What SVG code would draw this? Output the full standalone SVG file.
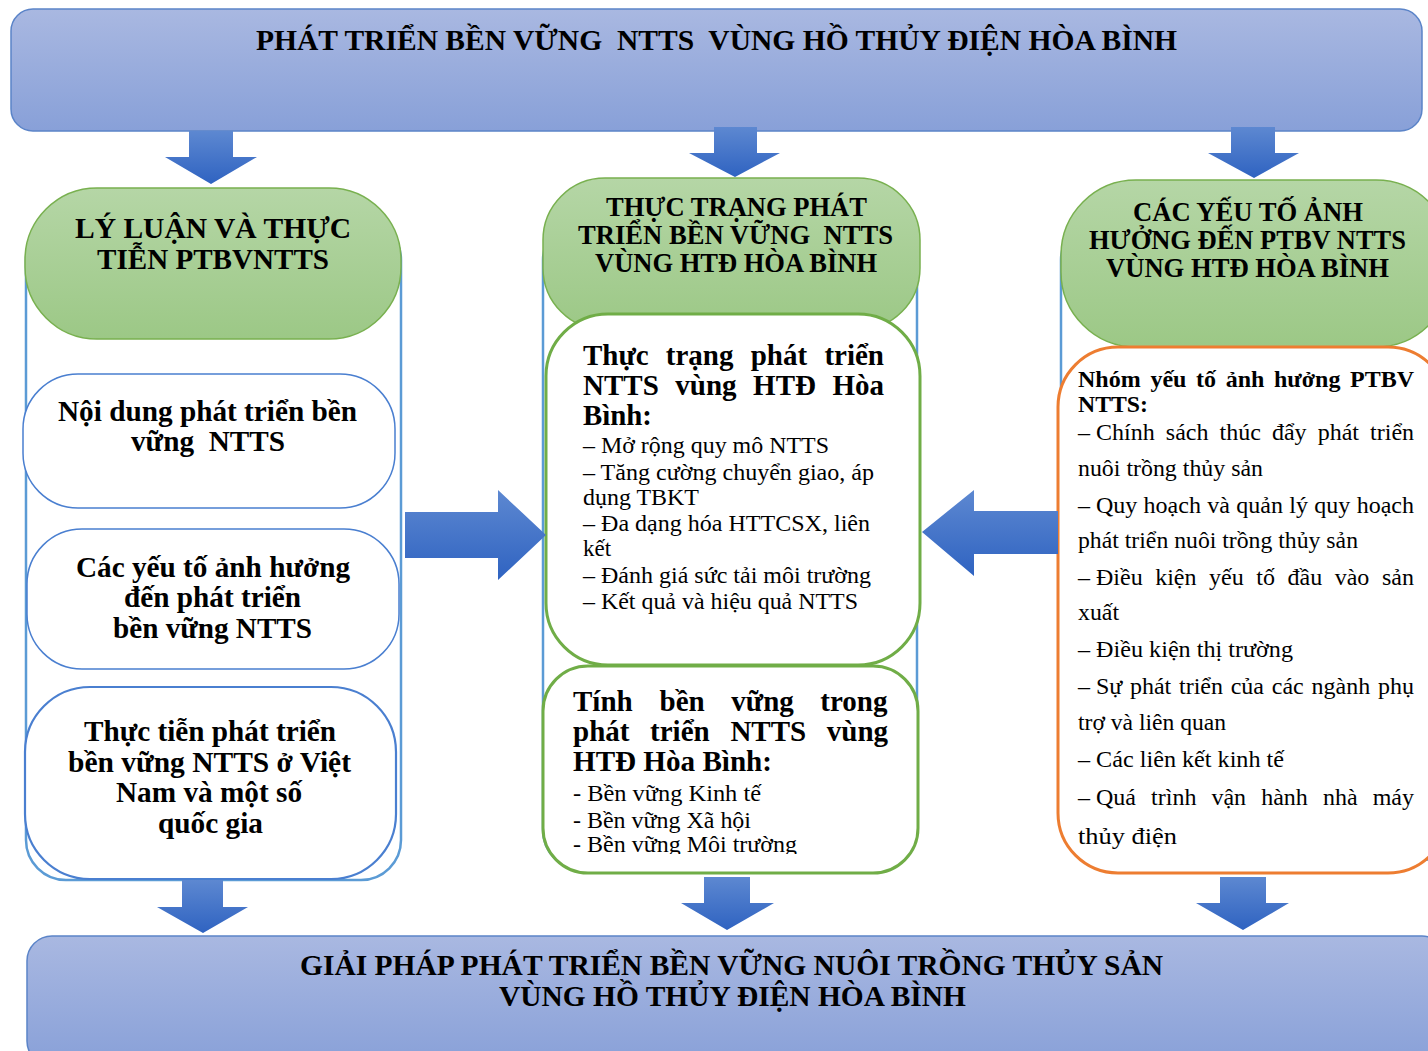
<svg xmlns="http://www.w3.org/2000/svg" width="1428" height="1051" viewBox="0 0 1428 1051">
<defs>
<linearGradient id="gBanner" x1="0" y1="0" x2="0" y2="1"><stop offset="0" stop-color="#a9b8e1"/><stop offset="1" stop-color="#88a0d8"/></linearGradient>
<linearGradient id="gGreen" x1="0" y1="0" x2="0" y2="1"><stop offset="0" stop-color="#b5d6a6"/><stop offset="1" stop-color="#9cc886"/></linearGradient>
<linearGradient id="gArrow" x1="0" y1="0" x2="0" y2="1"><stop offset="0" stop-color="#5d88d1"/><stop offset="1" stop-color="#2f63c1"/></linearGradient>
<clipPath id="clipMid2"><rect x="540" y="660" width="380" height="194"/></clipPath>
</defs>
<style>
.banner{fill:url(#gBanner);stroke:#5b84c8;stroke-width:1.5}
.green{fill:url(#gGreen);stroke:#78b04f;stroke-width:1.5}
.cont{fill:#fff;stroke:#5b9bd5;stroke-width:2.5}
.bbox{fill:#fff;stroke:#4a7fd0;stroke-width:1.5}
.gbox{fill:#fff;stroke:#70ad47;stroke-width:3}
.obox{fill:#fff;stroke:#ed7d31;stroke-width:3}
.arr{fill:url(#gArrow);stroke:none}
text{font-family:"Liberation Serif","Times New Roman",serif;fill:#000;white-space:pre}
.t28b{font-size:29px;font-weight:bold}
.h26{font-size:26.5px;font-weight:bold}
.b28{font-size:29px;font-weight:bold}
.r22{font-size:24px}
.b22{font-size:24px;font-weight:bold}
</style>

<g id="top-banner">
<rect class="banner" x="11" y="9" width="1411" height="122" rx="22"/>
<text class="t28b" x="256" y="50" textLength="921" lengthAdjust="spacingAndGlyphs">PHÁT TRIỂN BỀN VỮNG  NTTS  VÙNG HỒ THỦY ĐIỆN HÒA BÌNH</text>
</g>

<g id="left-column">
<rect class="cont" x="26" y="220" width="375" height="660" rx="40"/>
<rect class="green" x="25" y="188" width="376" height="151" rx="72"/>
<text class="h26" style="font-size:30px" x="75" y="238" textLength="276" lengthAdjust="spacingAndGlyphs">LÝ LUẬN VÀ THỰC</text>
<text class="h26" style="font-size:30px" x="97" y="269" textLength="232" lengthAdjust="spacingAndGlyphs">TIỄN PTBVNTTS</text>
</g>

<g id="left-box-1">
<rect class="bbox" x="23" y="374" width="372" height="134" rx="55"/>
<text class="b28" x="58" y="421" textLength="299" lengthAdjust="spacingAndGlyphs">Nội dung phát triển bền</text>
<text class="b28" x="131" y="451" textLength="154" lengthAdjust="spacingAndGlyphs">vững  NTTS</text>
</g>

<g id="left-box-2">
<rect class="bbox" x="27" y="529" width="372" height="140" rx="55"/>
<text class="b28" x="76" y="577" textLength="274" lengthAdjust="spacingAndGlyphs">Các yếu tố ảnh hưởng</text>
<text class="b28" x="124" y="607" textLength="177" lengthAdjust="spacingAndGlyphs">đến phát triển</text>
<text class="b28" x="113" y="638" textLength="199" lengthAdjust="spacingAndGlyphs">bền vững NTTS</text>
</g>

<g id="left-box-3">
<rect class="bbox" style="stroke-width:2.2" x="25" y="687" width="371" height="192" rx="65"/>
<text class="b28" x="84" y="741" textLength="252" lengthAdjust="spacingAndGlyphs">Thực tiễn phát triển</text>
<text class="b28" x="68" y="772" textLength="283" lengthAdjust="spacingAndGlyphs">bền vững NTTS ở Việt</text>
<text class="b28" x="116" y="802" textLength="186" lengthAdjust="spacingAndGlyphs">Nam và một số</text>
<text class="b28" x="158" y="833" textLength="105" lengthAdjust="spacingAndGlyphs">quốc gia</text>
</g>

<g id="middle-column">
<rect class="cont" x="543" y="220" width="374" height="650" rx="40"/>
<rect class="green" x="543" y="178" width="377" height="152" rx="62"/>
<text class="h26" x="606" y="216" textLength="261" lengthAdjust="spacingAndGlyphs">THỰC TRẠNG PHÁT</text>
<text class="h26" x="578" y="244" textLength="315" lengthAdjust="spacingAndGlyphs">TRIỂN BỀN VỮNG  NTTS</text>
<text class="h26" x="595" y="272" textLength="282" lengthAdjust="spacingAndGlyphs">VÙNG HTĐ HÒA BÌNH</text>
</g>

<g id="middle-box-1">
<rect class="gbox" x="546" y="314" width="374" height="351" rx="62"/>
<text class="b28" y="365"><tspan x="583">Thực </tspan><tspan x="665.8">trạng </tspan><tspan x="750.7">phát </tspan><tspan x="824.4">triển</tspan></text>
<text class="b28" y="395"><tspan x="583">NTTS </tspan><tspan x="675.3">vùng </tspan><tspan x="753.1">HTĐ </tspan><tspan x="832.4">Hòa</tspan></text>
<text class="b28" x="583" y="425" textLength="69" lengthAdjust="spacingAndGlyphs">Bình:</text>
<text class="r22" x="583" y="453" textLength="246" lengthAdjust="spacingAndGlyphs">– Mở rộng quy mô NTTS</text>
<text class="r22" x="583" y="480" textLength="291" lengthAdjust="spacingAndGlyphs">– Tăng cường chuyển giao, áp</text>
<text class="r22" x="583" y="505" textLength="116" lengthAdjust="spacingAndGlyphs">dụng TBKT</text>
<text class="r22" x="583" y="531" textLength="287" lengthAdjust="spacingAndGlyphs">– Đa dạng hóa HTTCSX, liên</text>
<text class="r22" x="583" y="556" textLength="28" lengthAdjust="spacingAndGlyphs">kết</text>
<text class="r22" x="583" y="583" textLength="288" lengthAdjust="spacingAndGlyphs">– Đánh giá sức tải môi trường</text>
<text class="r22" x="583" y="609" textLength="275" lengthAdjust="spacingAndGlyphs">– Kết quả và hiệu quả NTTS</text>
</g>

<g id="middle-box-2">
<rect class="gbox" x="543" y="666" width="375" height="207" rx="45"/>
<text class="b28" y="711"><tspan x="573">Tính </tspan><tspan x="659.5">bền </tspan><tspan x="731.3">vững </tspan><tspan x="820.3">trong</tspan></text>
<text class="b28" y="741"><tspan x="573">phát </tspan><tspan x="650.1">triển </tspan><tspan x="730.4">NTTS </tspan><tspan x="826.8">vùng</tspan></text>
<text class="b28" x="573" y="771" textLength="199" lengthAdjust="spacingAndGlyphs">HTĐ Hòa Bình:</text>
<text class="r22" x="573" y="801" textLength="188" lengthAdjust="spacingAndGlyphs">- Bền vững Kinh tế</text>
<text class="r22" x="573" y="828" textLength="178" lengthAdjust="spacingAndGlyphs">- Bền vững Xã hội</text>
<g clip-path="url(#clipMid2)"><text class="r22" x="573" y="852" textLength="224" lengthAdjust="spacingAndGlyphs">- Bền vững Môi trường</text></g>
</g>

<g id="right-column">
<rect class="cont" x="1061" y="220" width="400" height="640" rx="40"/>
<rect class="green" x="1061" y="180" width="390" height="167" rx="75"/>
<text class="h26" x="1133" y="221" textLength="230" lengthAdjust="spacingAndGlyphs">CÁC YẾU TỐ ẢNH</text>
<text class="h26" x="1089" y="249" textLength="317" lengthAdjust="spacingAndGlyphs">HƯỞNG ĐẾN PTBV NTTS</text>
<text class="h26" x="1106" y="277" textLength="283" lengthAdjust="spacingAndGlyphs">VÙNG HTĐ HÒA BÌNH</text>
</g>

<g id="right-box">
<rect class="obox" x="1058" y="347" width="390" height="526" rx="60"/>
<text class="b22" y="387"><tspan x="1078">Nhóm </tspan><tspan x="1150.4">yếu </tspan><tspan x="1196">tố </tspan><tspan x="1225.7">ảnh </tspan><tspan x="1274">hưởng </tspan><tspan x="1350">PTBV</tspan></text>
<text class="b22" x="1078" y="412" textLength="70" lengthAdjust="spacingAndGlyphs">NTTS:</text>
<text class="r22" y="440"><tspan x="1078">– Chính </tspan><tspan x="1165.8">sách </tspan><tspan x="1219.5">thúc </tspan><tspan x="1271.9">đẩy </tspan><tspan x="1317.7">phát </tspan><tspan x="1370.1">triển</tspan></text>
<text class="r22" x="1078" y="476" textLength="185" lengthAdjust="spacingAndGlyphs">nuôi trồng thủy sản</text>
<text class="r22" y="513"><tspan x="1078">– Quy </tspan><tspan x="1143.6">hoạch </tspan><tspan x="1207.3">và </tspan><tspan x="1236.3">quản </tspan><tspan x="1289.3">lý </tspan><tspan x="1314.3">quy </tspan><tspan x="1356.7">hoạch</tspan></text>
<text class="r22" x="1078" y="548" textLength="280" lengthAdjust="spacingAndGlyphs">phát triển nuôi trồng thủy sản</text>
<text class="r22" y="585"><tspan x="1078">– Điều </tspan><tspan x="1155.2">kiện </tspan><tspan x="1209.1">yếu </tspan><tspan x="1256.3">tố </tspan><tspan x="1287.5">đầu </tspan><tspan x="1334.7">vào </tspan><tspan x="1382">sản</tspan></text>
<text class="r22" x="1078" y="620" textLength="41" lengthAdjust="spacingAndGlyphs">xuất</text>
<text class="r22" x="1078" y="657" textLength="215" lengthAdjust="spacingAndGlyphs">– Điều kiện thị trường</text>
<text class="r22" y="694"><tspan x="1078">– Sự </tspan><tspan x="1129.9">phát </tspan><tspan x="1179">triển </tspan><tspan x="1230.7">của </tspan><tspan x="1271.8">các </tspan><tspan x="1311.6">ngành </tspan><tspan x="1378">phụ</tspan></text>
<text class="r22" x="1078" y="730" textLength="148" lengthAdjust="spacingAndGlyphs">trợ và liên quan</text>
<text class="r22" x="1078" y="767" textLength="206" lengthAdjust="spacingAndGlyphs">– Các liên kết kinh tế</text>
<text class="r22" y="805"><tspan x="1078">– Quá </tspan><tspan x="1151.1">trình </tspan><tspan x="1211.4">vận </tspan><tspan x="1261.2">hành </tspan><tspan x="1322.9">nhà </tspan><tspan x="1372.7">máy</tspan></text>
<text class="r22" x="1078" y="844" textLength="99" lengthAdjust="spacingAndGlyphs">thủy điện</text>
</g>

<g id="bottom-banner">
<rect class="banner" x="27" y="936" width="1420" height="130" rx="25"/>
<text class="t28b" x="300" y="975" textLength="863" lengthAdjust="spacingAndGlyphs">GIẢI PHÁP PHÁT TRIỂN BỀN VỮNG NUÔI TRỒNG THỦY SẢN</text>
<text class="t28b" x="499" y="1006" textLength="467" lengthAdjust="spacingAndGlyphs">VÙNG HỒ THỦY ĐIỆN HÒA BÌNH</text>
</g>

<g id="connectors">
<path class="arr" d="M189,131 H233 V157 H257 L211,184 L165,157 H189 Z"/>
<path class="arr" d="M714,127 H757 V153 H780 L735,177 L689,153 H714 Z"/>
<path class="arr" d="M1231,127 H1275 V153 H1299 L1254,178 L1208,153 H1231 Z"/>
<path class="arr" d="M405,512 H498 V490 L546,535 L498,580 V558 H405 Z"/>
<path class="arr" d="M1058,511 H974 V490 L922,532 L974,576 V554 H1058 Z"/>
<path class="arr" d="M182,880 H223 V907 H248 L203,933 L157,907 H182 Z"/>
<path class="arr" d="M704,877 H750 V903 H774 L727,930 L681,903 H704 Z"/>
<path class="arr" d="M1220,877 H1266 V903 H1289 L1243,930 L1196,903 H1220 Z"/>
</g>
</svg>
